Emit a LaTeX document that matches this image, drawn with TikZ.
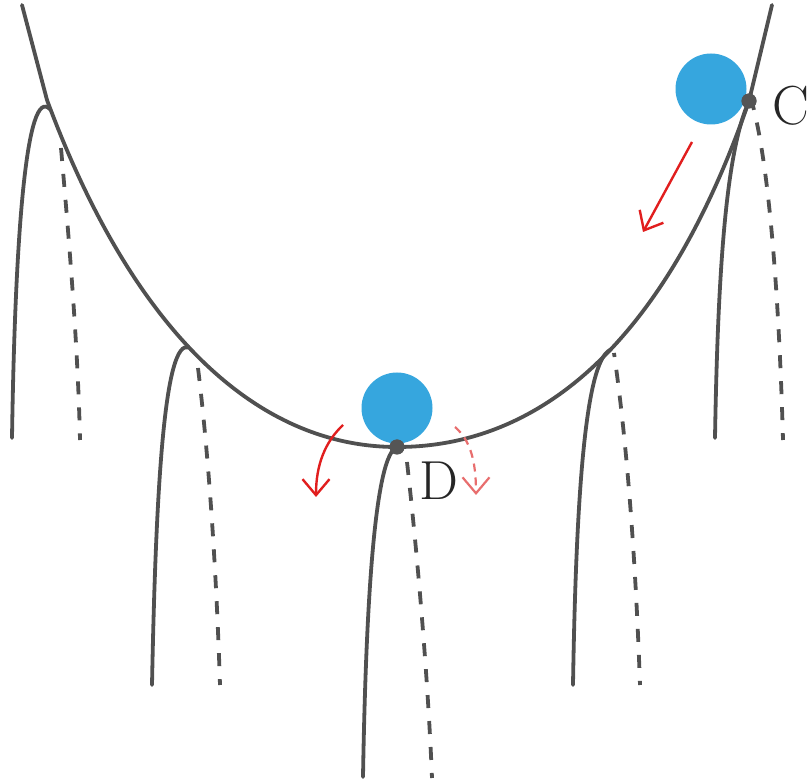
\documentclass[tikz,border=0pt]{standalone}
\usetikzlibrary{arrows.meta}
\definecolor{curvegray}{RGB}{80,80,80}
\definecolor{dotgray}{RGB}{85,85,85}
\definecolor{ballblue}{RGB}{54,166,222}
\definecolor{arrowred}{RGB}{225,30,30}
\definecolor{lightred}{RGB}{232,110,110}
\begin{document}
\begin{tikzpicture}[x=1pt,y=-1pt,
  curve/.style={draw=curvegray,line width=3.8pt,line cap=round,line join=round},
  hookdash/.style={draw=curvegray,line width=3.8pt,dash pattern=on 13pt off 13pt},
  ball/.style={circle,fill=ballblue,minimum size=71pt,inner sep=0pt},
  contact/.style={circle,fill=dotgray,minimum size=15pt,inner sep=0pt},
  lab/.style={inner sep=0pt,anchor=west,font=\fontsize{55}{60}\selectfont,text=black!85},
  redarrow/.style={draw=arrowred,line width=2.4pt,-{Straight Barb[length=16pt,width=27pt]}},
  ghostarrow/.style={draw=lightred,line width=2.2pt,dash pattern=on 8pt off 6pt,-{Straight Barb[length=16pt,width=27pt]}}]
\useasboundingbox (0,0) rectangle (807,783);
% points where the strings meet the curve
\coordinate (J1) at (50.5,109.7);
\coordinate (J2) at (189,347.5);
\coordinate (J4) at (610,350);
% hanging strings (solid and dashed parts)
\draw[curve] (12,438) .. controls (15,240) and (26,82) .. (J1);
\draw[hookdash] (61,148) .. controls (70,250) and (78,350) .. (80,440);
\draw[curve] (152,685) .. controls (156,480) and (165,338) .. (J2);
\draw[hookdash] (198,368) .. controls (208,450) and (216,560) .. (220,685);
\draw[curve] (573,685) .. controls (576,500) and (585,362) .. (J4);
\draw[hookdash,dash phase=9pt] (614,353) .. controls (628,450) and (636,570) .. (640,685);
% main curve
\draw[curve] (22,5) -- (47,100) .. controls (127,316) and (247,447) .. (397,447)
  .. controls (547,447) and (669,333) .. (749,101) -- (772,5);
% balls and contact points
\node[ball] (ballC) at (711,89) {};
\node[ball] (ballD) at (397,408) {};
\node[contact] (C) at (749,101) {};
\node[contact] (D) at (397,447) {};
\draw[curve] (715,438) .. controls (718,260) and (727,150) .. (C.center);
\draw[hookdash,dash phase=9pt] (753,106) .. controls (772,180) and (780,330) .. (783,440);
\draw[curve] (363,777) .. controls (366,600) and (375,455) .. (D.center);
\draw[hookdash] (407,462) .. controls (418,560) and (428,680) .. (432,778);
\node[contact] at (C) {};
\node[contact] at (D) {};
% labels
\node[lab] (labC) at (772,106) {C};
\node[lab] (labD) at (419,481) {D};
% arrows
\coordinate (aC1) at (692,142);
\coordinate (aC2) at (643,232);
\draw[redarrow] (aC1) -- (aC2);
\coordinate (aD1) at (343,425);
\coordinate (aD2) at (316,497);
\draw[redarrow] (aD1) .. controls (325,442) and (316,465) .. (aD2);
\coordinate (aE1) at (455,427);
\coordinate (aE2) at (476,495);
\draw[ghostarrow] (aE1) .. controls (470,440) and (476,460) .. (aE2);
\end{tikzpicture}
\end{document}
